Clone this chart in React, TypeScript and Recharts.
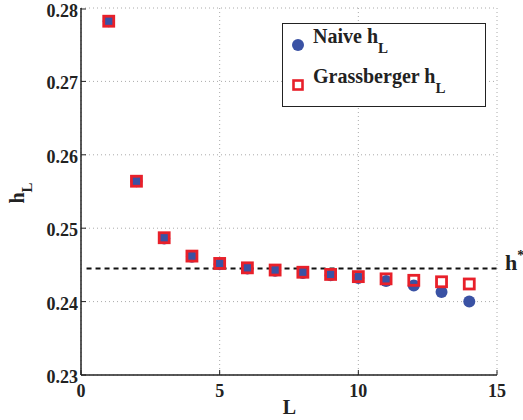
import React from "react";
import {
  ScatterChart, Scatter, XAxis, YAxis, CartesianGrid, ReferenceLine, Legend,
} from "recharts";

const lengths = [1, 2, 3, 4, 5, 6, 7, 8, 9, 10, 11, 12, 13, 14];
const naive = [0.2782, 0.2564, 0.2486, 0.2461, 0.2451, 0.2445, 0.2442, 0.2439, 0.2436, 0.2432, 0.2428, 0.2422, 0.2413, 0.24];
const grassberger = [0.2782, 0.2564, 0.2487, 0.2462, 0.2452, 0.2446, 0.2443, 0.244, 0.2437, 0.2434, 0.2431, 0.2429, 0.2427, 0.2424];
const hStar = 0.2445;
const xTicks = [0, 5, 10, 15];
const yTicks = [0.23, 0.24, 0.25, 0.26, 0.27, 0.28];

const FONT = "Liberation Serif, Tinos, DejaVu Serif, Times New Roman, serif";
const BLUE = "#3a52a4";
const RED = "#e8202a";
const AXIS = "#222";

const naiveData = lengths.map((L, i) => ({ L, h: naive[i] }));
const grassData = lengths.map((L, i) => ({ L, h: grassberger[i] }));

const Circle = (p: any) => <circle cx={p.cx} cy={p.cy} r={6} fill={BLUE} />;
const Square = (p: any) => (
  <rect x={p.cx - 5} y={p.cy - 5} width={10} height={10} fill="none" stroke={RED} strokeWidth={2.8} />
);
const Nothing = () => <g />;

const txt = { fontFamily: FONT, fontWeight: 700 as const };

const BottomTick = (p: any) => (
  <g>
    <line x1={p.x} x2={p.x} y1={p.y} y2={p.y - 5} stroke={AXIS} strokeWidth={1} />
    <text x={p.x} y={p.y + 22} textAnchor="middle" style={txt} fontSize={18} fill="#222">
      {p.payload.value}
    </text>
  </g>
);
const LeftTick = (p: any) => (
  <g>
    <line x1={p.x} x2={p.x + 5} y1={p.y} y2={p.y} stroke={AXIS} strokeWidth={1} />
    <text x={p.x - 3} y={p.y + 8} textAnchor="end" style={txt} fontSize={18} fill="#222">
      {p.payload.value.toFixed(2)}
    </text>
  </g>
);
const TopTick = (p: any) => (
  <line x1={p.x} x2={p.x} y1={p.y} y2={p.y + 5} stroke={AXIS} strokeWidth={1} />
);
const RightTick = (p: any) => (
  <line x1={p.x - 5} x2={p.x} y1={p.y} y2={p.y} stroke={AXIS} strokeWidth={1} />
);

const LegendBox = () => (
  <div style={{
    position: "relative", width: 204, height: 84, boxSizing: "border-box",
    border: "1.5px solid #222", background: "#fff",
  }}>
    <svg width={204} height={84} style={{ position: "absolute", left: -1.5, top: -1.5 }}>
      <circle cx={16} cy={22} r={6} fill={BLUE} />
      <rect x={11.5} y={57.5} width={9} height={9} fill="none" stroke={RED} strokeWidth={2.6} />
      <text x={31} y={20} style={txt} fontSize={20} fill="#222">Naive h<tspan dy={10} fontSize={15}>L</tspan></text>
      <text x={31} y={60} style={txt} fontSize={20} fill="#222">Grassberger h<tspan dy={10} fontSize={15}>L</tspan></text>
    </svg>
  </div>
);

export default function App() {
  return (
    <div style={{ position: "absolute", left: 0, top: 0, background: "#fff" }}>
      <ScatterChart width={523} height={420} margin={{ top: 8, right: 26, bottom: 0, left: 0 }}>
        <CartesianGrid stroke="#aaa" strokeDasharray="1 3" xAxisId="bottom" yAxisId="left" />
        <XAxis
          xAxisId="bottom" dataKey="L" type="number" domain={[0, 15]} ticks={xTicks}
          height={45} tickSize={0} tickMargin={0} tickLine={false} tick={<BottomTick />}
          axisLine={{ stroke: AXIS, strokeWidth: 1.5 }}
          label={{
            content: () => (
              <text x={289.5} y={414} textAnchor="middle" style={txt} fontSize={20} fill="#222">L</text>
            ),
          }}
        />
        <YAxis
          yAxisId="left" dataKey="h" type="number" domain={[0.23, 0.28]} ticks={yTicks}
          width={81} tickSize={0} tickMargin={0} tickLine={false} tick={<LeftTick />}
          axisLine={{ stroke: AXIS, strokeWidth: 1.5 }}
          label={{
            content: () => (
              <text
                x={24} y={193} transform="rotate(-90, 24, 193)" textAnchor="middle"
                style={txt} fontSize={20} fill="#222"
              >
                h<tspan dy={8} fontSize={15}>L</tspan>
              </text>
            ),
          }}
        />
        <XAxis
          xAxisId="top" orientation="top" dataKey="L" type="number" domain={[0, 15]} ticks={xTicks}
          height={0} tickSize={0} tickMargin={0} tickLine={false} tick={<TopTick />}
          axisLine={{ stroke: AXIS, strokeWidth: 1.5 }}
        />
        <YAxis
          yAxisId="right" orientation="right" dataKey="h" type="number" domain={[0.23, 0.28]} ticks={yTicks}
          width={0} tickSize={0} tickMargin={0} tickLine={false} tick={<RightTick />}
          axisLine={{ stroke: AXIS, strokeWidth: 1.5 }}
        />
        <ReferenceLine
          xAxisId="bottom" yAxisId="left"
          segment={[{ x: 0.2, y: hStar }, { x: 15, y: hStar }]}
          stroke="#111" strokeWidth={2} strokeDasharray="5 4"
        />
        <ReferenceLine
          xAxisId="bottom" yAxisId="left" y={hStar} stroke="none"
          label={{
            content: () => (
              <text x={505} y={270} style={txt} fontSize={22} fill="#222">
                h<tspan dy={-10} fontSize={14}>*</tspan>
              </text>
            ),
          }}
        />
        <Scatter xAxisId="top" yAxisId="right" data={naiveData} shape={<Nothing />} isAnimationActive={false} legendType="none" />
        <Scatter xAxisId="bottom" yAxisId="left" name="Naive" data={naiveData} shape={<Circle />} isAnimationActive={false} />
        <Scatter xAxisId="bottom" yAxisId="left" name="Grassberger" data={grassData} shape={<Square />} isAnimationActive={false} />
        <Legend
          layout="vertical" align="center" verticalAlign="middle"
          wrapperStyle={{ left: 282, top: 23, width: 204, height: 84 }}
          content={() => <LegendBox />}
        />
      </ScatterChart>
    </div>
  );
}
